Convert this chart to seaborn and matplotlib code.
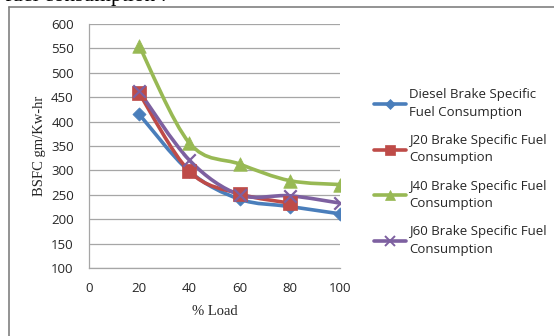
import numpy as np
import matplotlib
matplotlib.use("Agg")
import matplotlib.pyplot as plt
from matplotlib.path import Path
from matplotlib.patches import PathPatch
from matplotlib.lines import Line2D
import seaborn as sns

# Engine load (%) and brake specific fuel consumption (gm/Kw-hr)
load = [20, 40, 60, 80, 100]
diesel_bsfc = [415, 298, 241, 226, 211]
j20_bsfc = [458, 298, 252, 233]
j40_bsfc = [555, 356, 313, 279, 271]
j60_bsfc = [462, 321, 250, 248, 233]

series_names = [
    "Diesel Brake Specific\nFuel Consumption",
    "J20 Brake Specific Fuel\nConsumption",
    "J40 Brake Specific Fuel\nConsumption",
    "J60 Brake Specific Fuel\nConsumption",
]
series_values = [diesel_bsfc, j20_bsfc, j40_bsfc, j60_bsfc]
x_ticks = [0, 20, 40, 60, 80, 100]
y_ticks = [100, 150, 200, 250, 300, 350, 400, 450, 500, 550, 600]

colors = ["#4A7EBB", "#BE4B48", "#98B954", "#7D60A0"]
markers = ["D", "s", "^", "x"]
marker_sizes = [45, 90, 95, 80]

sns.set_theme(style="white")
plt.rcParams["font.family"] = ["Open Sans", "DejaVu Sans"]

W, H = 554, 336
fig = plt.figure(figsize=(W / 100, H / 100), dpi=100)
ax = fig.add_axes([89 / W, (H - 268) / H, (340 - 89) / W, (268 - 24) / H])


def smooth_path(xs, ys):
    """Excel-style smoothed curve through the points as cubic Bezier segments."""
    pts = np.column_stack([xs, ys]).astype(float)
    n = len(pts)
    verts = [tuple(pts[0])]
    codes = [Path.MOVETO]
    for i in range(n - 1):
        p0 = pts[i - 1] if i > 0 else pts[i]
        p1 = pts[i]
        p2 = pts[i + 1]
        p3 = pts[i + 2] if i + 2 < n else pts[i + 1]
        c1 = p1 + (p2 - p0) / 6.0
        c2 = p2 - (p3 - p1) / 6.0
        verts += [tuple(c1), tuple(c2), tuple(p2)]
        codes += [Path.CURVE4] * 3
    return Path(verts, codes)


for vals, col, mk, ms in zip(series_values, colors, markers, marker_sizes):
    xs = load[: len(vals)]
    ax.add_patch(PathPatch(smooth_path(xs, vals), facecolor="none",
                           edgecolor=col, lw=2.6, capstyle="round",
                           joinstyle="round", zorder=2))
    if mk == "x":
        sns.scatterplot(x=xs, y=vals, marker=mk, s=ms, color=col,
                        linewidth=1.6, ax=ax, zorder=3, legend=False)
    else:
        sns.scatterplot(x=xs, y=vals, marker=mk, s=ms, color=col,
                        edgecolor=col, linewidth=0.5, ax=ax, zorder=3,
                        legend=False)

ax.set_xlim(0, 100)
ax.set_ylim(100, 600)
ax.set_xticks(x_ticks)
ax.set_yticks(y_ticks)
ax.yaxis.grid(True, color="#A6A6A6", lw=0.9)
ax.xaxis.grid(False)
for side in ["top", "right"]:
    ax.spines[side].set_visible(False)
for side in ["left", "bottom"]:
    ax.spines[side].set_color("#A6A6A6")
    ax.spines[side].set_linewidth(0.9)
ax.tick_params(axis="both", length=0, labelsize=9.5, colors="#262626")
ax.tick_params(axis="y", pad=11)
ax.tick_params(axis="x", pad=10)

serif = ["Liberation Serif", "DejaVu Serif"]
ax.set_xlabel("% Load", family=serif, fontsize=10.5, color="#262626", labelpad=7.5)
ax.set_ylabel("BSFC gm/Kw-hr", family=serif, fontsize=10.5, color="#262626", labelpad=3.5)

handles = [
    Line2D([0], [0], color=c, lw=2.6, marker=m, markersize=s,
           markeredgewidth=1.4 if m == "x" else 0.5, markeredgecolor=c)
    for c, m, s in zip(colors, markers, [5.5, 7, 7.5, 7])
]
leg = fig.legend(handles, series_names, loc="upper left",
                 bbox_to_anchor=(369 / W, 1 - 83 / H), frameon=False,
                 fontsize=9.5, handlelength=2.4, handletextpad=0.25,
                 labelspacing=1.15, borderaxespad=0, labelcolor="#262626")
for t in leg.get_texts():
    t.set_linespacing(1.45)

# surrounding frame of the figure box
fig.add_artist(Line2D([9 / W, 9 / W], [0, 1 - 7 / H], color="#808080", lw=1.2))
fig.add_artist(Line2D([9 / W, 1], [1 - 7 / H, 1 - 7 / H], color="#808080", lw=1.2))

# running text above the chart box
fig.text(5 / W, 1 - 1.5 / H, "fuel consumption :", family=serif, fontsize=15.5,
         va="baseline", ha="left", color="black")

fig.savefig("out.png", dpi=100)
